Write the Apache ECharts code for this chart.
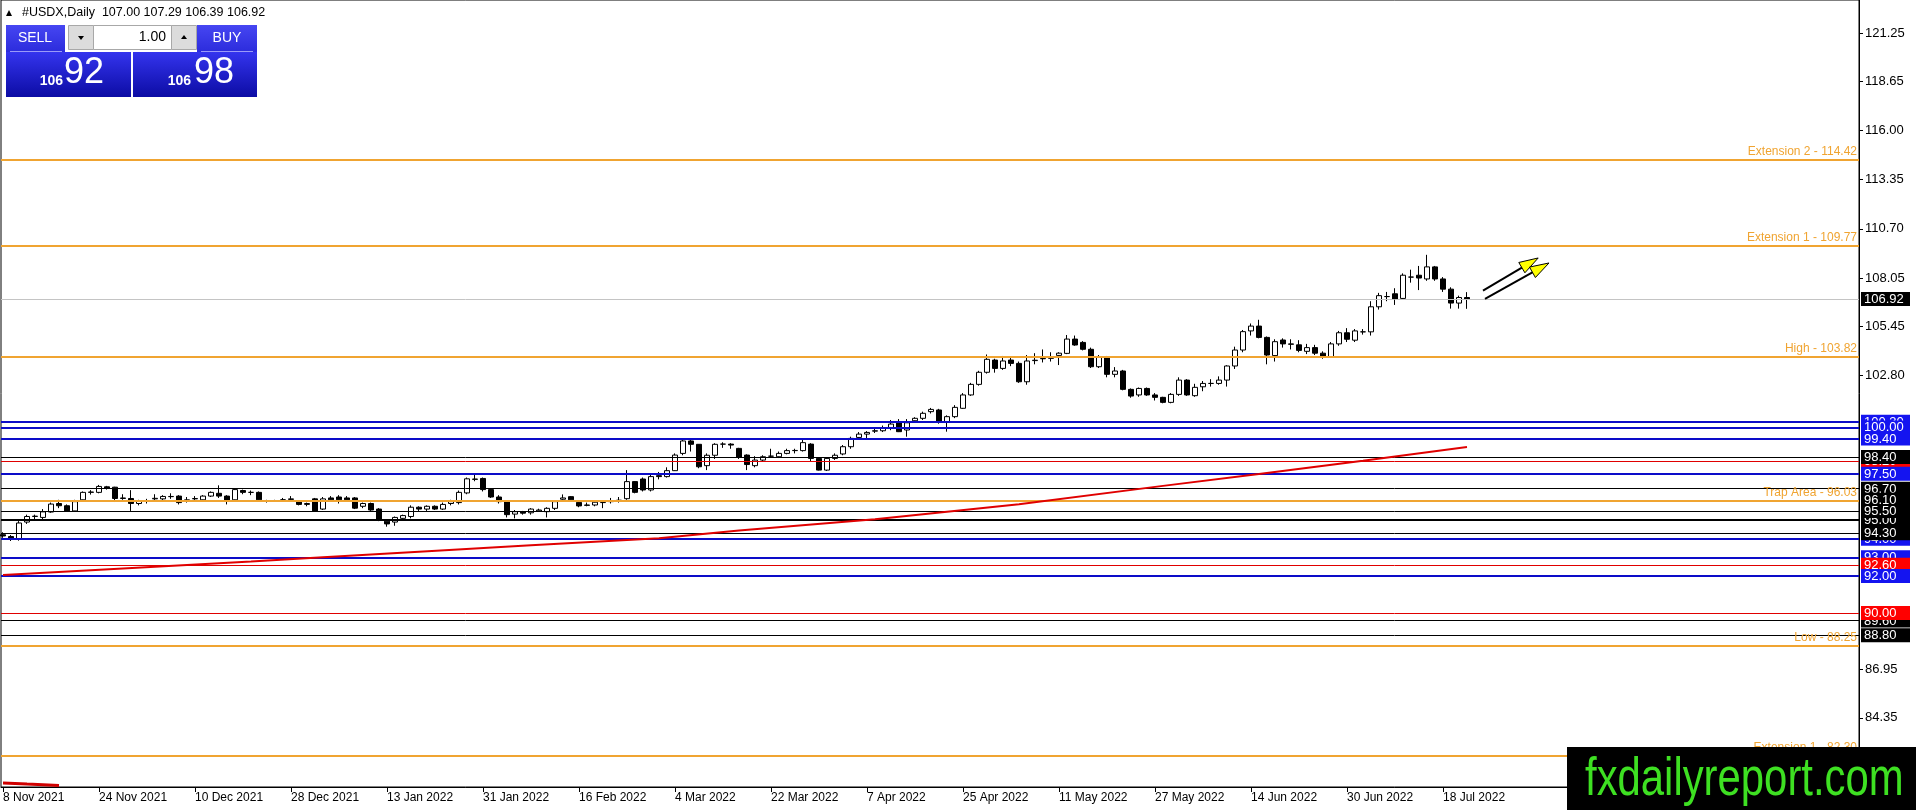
<!DOCTYPE html>
<html>
<head>
<meta charset="utf-8">
<title>#USDX,Daily</title>
<script src="https://cdn.jsdelivr.net/npm/echarts@6/dist/echarts.min.js"></script>
<style>
html, body { margin: 0; padding: 0; background: #fff; }
#chart { width: 1916px; height: 810px; }
</style>
</head>
<body>
<div id="chart"></div>
<script>
// daily candles, 8 Nov 2021 .. 21 Jul 2022, [open, high, low, close]
var candles = [
    [94.22,94.35,94.05,94.15],[94.12,94.20,93.88,94.00],[94.00,94.95,93.90,94.85],[94.90,95.30,94.80,95.20],
    [95.20,95.30,95.05,95.22],[95.15,95.60,95.05,95.45],[95.44,95.95,95.40,95.87],[95.90,96.10,95.65,95.78],
    [95.78,95.85,95.45,95.50],[95.50,96.10,95.45,96.00],[96.10,96.55,96.05,96.50],[96.50,96.62,96.38,96.52],
    [96.50,96.90,96.45,96.82],[96.80,96.85,96.65,96.72],[96.78,96.80,95.98,96.17],[96.17,96.40,96.10,96.20],
    [96.17,96.62,95.50,95.90],[95.90,96.10,95.80,96.05],[96.05,96.15,95.90,96.05],[96.15,96.40,96.00,96.18],
    [96.15,96.35,96.05,96.28],[96.27,96.45,96.15,96.28],[96.30,96.35,95.85,95.95],[96.05,96.25,95.95,96.10],
    [96.15,96.30,96.00,96.17],[96.10,96.35,96.05,96.30],[96.30,96.55,96.25,96.50],[96.45,96.88,96.20,96.30],
    [96.30,96.35,95.85,96.05],[96.10,96.70,96.00,96.65],[96.60,96.65,96.40,96.50],[96.50,96.60,96.35,96.50],
    [96.50,96.55,96.05,96.10],[96.05,96.10,95.95,96.04],[96.05,96.10,96.00,96.05],[96.10,96.20,96.00,96.10],
    [96.12,96.30,96.00,96.15],[96.00,96.05,95.80,95.85],[95.85,95.95,95.75,95.90],[96.15,96.20,95.50,95.50],
    [95.60,96.25,95.55,96.15],[96.20,96.30,96.00,96.10],[96.25,96.35,95.90,96.10],[96.20,96.30,96.00,96.10],
    [96.20,96.25,95.60,95.65],[95.75,95.95,95.65,95.90],[95.90,95.95,95.50,95.55],[95.60,95.65,94.95,95.00],
    [94.95,95.00,94.65,94.80],[94.90,95.20,94.70,95.15],[95.10,95.30,95.00,95.25],[95.20,95.80,95.10,95.70],
    [95.70,95.75,95.50,95.60],[95.60,95.80,95.50,95.75],[95.75,95.80,95.55,95.60],[95.60,95.95,95.55,95.85],
    [95.90,96.10,95.80,96.00],[95.95,96.60,95.85,96.50],[96.47,97.30,96.40,97.23],[97.20,97.45,97.10,97.22],
    [97.25,97.30,96.55,96.65],[96.65,96.70,96.20,96.25],[96.25,96.35,95.90,96.00],[96.00,96.05,95.15,95.30],
    [95.33,95.55,95.10,95.46],[95.45,95.50,95.30,95.38],[95.40,95.65,95.30,95.60],[95.50,95.62,95.45,95.55],
    [95.46,95.70,95.15,95.64],[95.64,96.05,95.55,96.00],[96.13,96.39,96.00,96.20],[96.27,96.30,96.05,96.10],
    [95.96,96.00,95.70,95.77],[95.80,95.95,95.75,95.82],[95.82,96.05,95.75,95.97],[95.95,96.00,95.65,95.96],
    [96.00,96.20,95.90,96.03],[96.05,96.25,95.95,96.08],[96.16,97.70,96.10,97.08],[97.08,97.10,96.45,96.50],
    [97.22,97.30,96.55,96.63],[96.63,97.50,96.55,97.35],[97.40,97.60,97.20,97.35],[97.35,97.85,97.30,97.67],
    [97.67,98.60,97.65,98.51],[98.60,99.40,98.50,99.27],[99.27,99.35,98.70,99.09],[99.09,99.10,97.80,97.88],
    [97.94,98.60,97.70,98.50],[98.50,99.15,98.30,99.09],[99.10,99.20,98.90,99.10],[99.10,99.15,98.85,99.05],
    [98.87,98.90,98.30,98.39],[98.51,98.55,97.70,98.00],[97.94,98.45,97.85,98.24],[98.24,98.50,98.15,98.42],
    [98.45,98.85,98.40,98.45],[98.42,98.70,98.35,98.60],[98.60,98.85,98.55,98.75],[98.75,98.85,98.60,98.76],
    [98.75,99.40,98.70,99.18],[99.10,99.15,98.15,98.33],[98.33,98.35,97.68,97.70],[97.70,98.35,97.65,98.33],
    [98.33,98.60,98.25,98.50],[98.57,99.05,98.50,98.96],[98.96,99.50,98.85,99.41],[99.46,99.75,99.40,99.64],
    [99.64,99.80,99.40,99.73],[99.80,100.00,99.70,99.82],[99.82,100.10,99.75,99.95],[99.95,100.40,99.85,100.18],
    [100.25,100.45,99.75,99.77],[99.86,100.45,99.50,100.25],[100.36,100.55,100.30,100.49],[100.49,100.85,100.40,100.76],
    [100.85,101.05,100.75,100.97],[100.94,101.00,100.20,100.31],[100.31,100.65,99.77,100.58],[100.58,101.20,100.50,101.08],
    [101.03,101.85,101.00,101.75],[101.75,102.40,101.70,102.32],[102.32,103.05,102.25,102.97],[102.97,103.93,102.90,103.67],
    [103.63,103.70,102.95,103.18],[103.18,103.85,103.10,103.58],[103.63,103.75,103.30,103.45],[103.45,103.55,102.40,102.46],
    [102.46,103.90,102.30,103.58],[103.60,104.00,103.40,103.62],[103.70,104.20,103.50,103.72],[103.72,104.05,103.55,103.81],
    [103.88,104.05,103.36,104.00],[103.99,104.98,103.95,104.76],[104.76,104.95,104.40,104.44],[104.58,104.65,104.15,104.21],
    [104.21,104.30,103.20,103.27],[103.27,103.90,103.20,103.81],[103.81,103.85,102.70,102.86],[102.86,103.25,102.70,103.04],
    [103.04,103.10,102.00,102.05],[102.05,102.10,101.60,101.69],[101.75,102.15,101.65,102.10],[102.10,102.15,101.70,101.75],
    [101.75,101.85,101.45,101.62],[101.62,101.65,101.30,101.35],[101.35,101.85,101.30,101.78],[101.78,102.70,101.70,102.55],
    [102.55,102.60,101.70,101.75],[101.71,102.35,101.65,102.16],[102.19,102.50,101.95,102.37],[102.37,102.60,102.20,102.37],
    [102.37,102.75,102.30,102.55],[102.55,103.35,102.20,103.31],[103.31,104.35,103.15,104.17],[104.17,105.25,104.05,105.16],
    [105.20,105.60,104.95,105.46],[105.46,105.80,104.80,104.85],[104.85,104.90,103.40,103.90],[103.87,104.75,103.55,104.62],
    [104.71,104.80,104.30,104.50],[104.50,104.75,104.20,104.48],[104.45,104.70,104.05,104.15],[104.10,104.50,103.95,104.30],
    [104.30,104.45,103.90,104.00],[104.00,104.10,103.70,103.80],[103.80,104.60,103.75,104.50],[104.50,105.20,104.40,105.10],
    [105.10,105.35,104.60,104.75],[104.70,105.30,104.60,105.20],[105.15,105.30,105.00,105.15],[105.15,106.80,104.95,106.50],
    [106.50,107.25,106.35,107.10],[107.05,107.30,106.80,107.05],[107.20,107.50,106.60,106.90],[106.95,108.30,106.90,108.20],
    [108.10,108.50,107.80,108.10],[108.20,108.70,107.40,108.05],[108.00,109.30,107.90,108.65],[108.65,108.70,107.90,108.00],
    [108.00,108.10,107.30,107.45],[107.45,107.55,106.40,106.70],[106.70,107.10,106.40,107.00],[107.00,107.29,106.39,106.92]
];

// moving average (bar index, value)
var maBars = [0, 15, 31, 40, 52, 66, 82, 92, 109, 127, 145, 157, 170, 183];
var maValues = [92.05, 92.40, 92.77, 93.00, 93.30, 93.65, 94.03, 94.45, 95.05, 95.86, 96.85, 97.49, 98.20, 98.95];
// the red stub sitting on the bottom edge
var stubBars = [0, 3, 7];
var stubValues = [80.84, 80.78, 80.71];

var xTickBars = [0, 12, 24, 36, 48, 60, 72, 84, 96, 108, 120, 132, 144, 156, 168, 180];
var xTickLabels = ['8 Nov 2021', '24 Nov 2021', '10 Dec 2021', '28 Dec 2021', '13 Jan 2022', '31 Jan 2022',
    '16 Feb 2022', '4 Mar 2022', '22 Mar 2022', '7 Apr 2022', '25 Apr 2022', '11 May 2022',
    '27 May 2022', '14 Jun 2022', '30 Jun 2022', '18 Jul 2022'];
var yTicks = [121.25, 118.65, 116.00, 113.35, 110.70, 108.05, 105.45, 102.80, 86.95, 84.35];

var fibLevels = [114.42, 109.77, 103.82, 96.03, 88.25, 82.30];
var fibNames = ['Extension 2', 'Extension 1', 'High', 'Trap Area', 'Low', 'Extension 1'];
var blueLevels = [100.30, 100.00, 99.40, 97.50, 94.00, 93.00, 92.00];
var blackLevels = [98.40, 96.70, 96.10, 95.50, 95.00, 94.30, 89.60, 88.80];
var redLevels = [98.20, 92.60, 90.00];
var lastPrice = 106.92;
// order the price boxes are stacked on the right scale (later ones on top)
var boxOrder = [100.30, 100.00, 99.40, 98.20, 98.40, 97.50, 96.70, 96.10, 95.00, 95.50, 94.00, 94.30,
    93.00, 92.60, 92.00, 89.60, 90.00, 88.80, 106.92];

// the two hand drawn arrows [bar1, value1, bar2, value2]
var arrows = [[185.0, 107.37, 191.9, 109.13], [185.25, 106.92, 193.25, 108.86]];

var FONT = '"Liberation Sans", Arial, sans-serif';
var ORANGE = '#f0a431';

function inList(list, v) {
    var s = v.toFixed(2);
    for (var i = 0; i < list.length; i++) {
        if (list[i].toFixed(2) === s) return true;
    }
    return false;
}

var candleData = candles.map(function (c, i) { return [i, c[0], c[3], c[2], c[1]]; });

var levelLines = [];
blackLevels.forEach(function (v) {
    levelLines.push({ yAxis: v, lineStyle: { color: '#000', width: v === 95 ? 2 : 1 } });
});
redLevels.forEach(function (v) {
    levelLines.push({ yAxis: v, lineStyle: { color: '#e00000', width: 1 } });
});
blueLevels.forEach(function (v) {
    levelLines.push({ yAxis: v, lineStyle: { color: '#0c0cc8', width: 2 } });
});
levelLines.push({ yAxis: lastPrice, lineStyle: { color: '#c4c4c4', width: 1 } });
fibLevels.forEach(function (v, i) {
    levelLines.push({
        yAxis: v,
        lineStyle: { color: ORANGE, width: 2 },
        label: {
            show: true, position: 'insideEndTop', distance: 2,
            formatter: fibNames[i] + ' - ' + v.toFixed(2),
            color: ORANGE, fontSize: 12, fontFamily: FONT
        }
    });
});

var boxStyle = function (bg) {
    return { color: '#fff', backgroundColor: bg, fontSize: 13, fontFamily: FONT, lineHeight: 13,
        width: 43, padding: [1, 3, 0, 3] };
};

var chart = echarts.init(document.getElementById('chart'));

var option = {
    animation: false,
    backgroundColor: '#fff',
    grid: {
        left: 1, right: 57, top: 0, bottom: 23,
        show: true, borderColor: '#000', borderWidth: 1, backgroundColor: '#fff',
        containLabel: false, outerBoundsMode: 'none'
    },
    xAxis: {
        type: 'value', min: -0.25, max: 232,
        axisLine: { show: true, onZero: false, lineStyle: { color: '#000', width: 1 } },
        axisTick: { show: true, length: 5, customValues: xTickBars, lineStyle: { color: '#000' } },
        axisLabel: {
            customValues: xTickBars, align: 'left', margin: 5, color: '#000',
            fontSize: 12, fontFamily: FONT, hideOverlap: false,
            formatter: function (v) { return xTickLabels[xTickBars.indexOf(v)] || ''; }
        },
        splitLine: { show: false }
    },
    yAxis: {
        type: 'value', position: 'right', min: 80.625, max: 123.03,
        axisLine: { show: true, onZero: false, lineStyle: { color: '#000', width: 1 } },
        axisTick: { show: true, inside: false, length: 4, customValues: yTicks, lineStyle: { color: '#000' } },
        splitLine: { show: false },
        axisLabel: {
            customValues: yTicks.concat(boxOrder), margin: 2, hideOverlap: false,
            fontSize: 13, fontFamily: FONT, color: '#000',
            formatter: function (v) {
                var s = v.toFixed(2);
                if (inList([lastPrice], v)) return '{k|' + s + '}';
                if (inList(blueLevels, v)) return '{b|' + s + '}';
                if (inList(redLevels, v)) return '{r|' + s + '}';
                if (inList(blackLevels, v)) return '{k|' + s + '}';
                return '{n|' + s + '}';
            },
            rich: {
                n: { color: '#000', fontSize: 13, fontFamily: FONT, padding: [0, 0, 0, 4] },
                k: boxStyle('#000'),
                b: boxStyle('#1414f0'),
                r: boxStyle('#ff0000')
            }
        }
    },
    series: [
        {
            type: 'candlestick',
            data: candleData,
            encode: { x: 0, y: [1, 2, 3, 4] },
            barWidth: 5,
            itemStyle: { color: '#fff', color0: '#000', borderColor: '#000', borderColor0: '#000', borderWidth: 1 },
            markLine: {
                symbol: 'none', silent: true, animation: false,
                label: { show: false },
                lineStyle: { type: 'solid' },
                emphasis: { disabled: true },
                data: levelLines
            }
        },
        {
            type: 'line',
            data: maBars.map(function (b, i) { return [b, maValues[i]]; }),
            symbol: 'none', z: 6,
            lineStyle: { color: '#e00000', width: 2 }
        },
        {
            type: 'line',
            data: stubBars.map(function (b, i) { return [b, stubValues[i]]; }),
            symbol: 'none', z: 6,
            lineStyle: { color: '#d00000', width: 3 }
        },
        {
            type: 'custom',
            data: arrows,
            encode: { x: [0, 2], y: [1, 3] },
            z: 7,
            renderItem: function (params, api) {
                var p1 = api.coord([api.value(0), api.value(1)]);
                var p2 = api.coord([api.value(2), api.value(3)]);
                var dx = p2[0] - p1[0], dy = p2[1] - p1[1];
                var len = Math.sqrt(dx * dx + dy * dy);
                var ux = dx / len, uy = dy / len, nx = -uy, ny = ux;
                var hl = 19, hw = 6;
                var bx = p2[0] - ux * hl, by = p2[1] - uy * hl;
                return {
                    type: 'group',
                    children: [
                        { type: 'line', shape: { x1: p1[0], y1: p1[1], x2: bx + ux * 2, y2: by + uy * 2 },
                          style: { stroke: '#000', lineWidth: 2 } },
                        { type: 'polygon', shape: { points: [[p2[0], p2[1]], [bx + nx * hw, by + ny * hw], [bx - nx * hw, by - ny * hw]] },
                          style: { fill: '#ffff00', stroke: '#000', lineWidth: 1 } }
                    ]
                };
            }
        }
    ],
    graphic: [
        // header
        { type: 'polygon', z: 100, shape: { points: [[6, 16], [12, 16], [9, 10]] }, style: { fill: '#000' } },
        { type: 'text', z: 100, x: 22, y: 13,
          style: { text: '#USDX,Daily  107.00 107.29 106.39 106.92', fill: '#000', font: '12.5px ' + FONT, textVerticalAlign: 'middle' } },
        // one click trading panel
        { type: 'rect', z: 100, shape: { x: 6, y: 25, width: 59, height: 27 },
          style: { fill: new echarts.graphic.LinearGradient(0, 0, 0, 1, [{ offset: 0, color: '#4646f2' }, { offset: 1, color: '#2c2cdc' }]) } },
        { type: 'text', z: 101, x: 35, y: 38, style: { text: 'SELL', fill: '#fff', font: '14px ' + FONT, textAlign: 'center', textVerticalAlign: 'middle' } },
        { type: 'line', z: 101, shape: { x1: 10, y1: 51.5, x2: 62, y2: 51.5 }, style: { stroke: '#9a9af8', lineWidth: 1 } },
        { type: 'rect', z: 100, shape: { x: 68.5, y: 25.5, width: 25, height: 24 }, style: { fill: '#dcdcdc', stroke: '#a8a8a8', lineWidth: 1 } },
        { type: 'polygon', z: 101, shape: { points: [[78, 36], [84, 36], [81, 40]] }, style: { fill: '#000' } },
        { type: 'rect', z: 100, shape: { x: 93.5, y: 25.5, width: 78, height: 24 }, style: { fill: '#fff', stroke: '#a8a8a8', lineWidth: 1 } },
        { type: 'text', z: 101, x: 166, y: 37, style: { text: '1.00', fill: '#000', font: '14px ' + FONT, textAlign: 'right', textVerticalAlign: 'middle' } },
        { type: 'rect', z: 100, shape: { x: 171.5, y: 25.5, width: 25, height: 24 }, style: { fill: '#dcdcdc', stroke: '#a8a8a8', lineWidth: 1 } },
        { type: 'polygon', z: 101, shape: { points: [[181, 39], [187, 39], [184, 35]] }, style: { fill: '#000' } },
        { type: 'rect', z: 100, shape: { x: 197, y: 25, width: 60, height: 27 },
          style: { fill: new echarts.graphic.LinearGradient(0, 0, 0, 1, [{ offset: 0, color: '#4646f2' }, { offset: 1, color: '#2c2cdc' }]) } },
        { type: 'text', z: 101, x: 227, y: 38, style: { text: 'BUY', fill: '#fff', font: '14px ' + FONT, textAlign: 'center', textVerticalAlign: 'middle' } },
        { type: 'line', z: 101, shape: { x1: 201, y1: 51.5, x2: 253, y2: 51.5 }, style: { stroke: '#9a9af8', lineWidth: 1 } },
        { type: 'rect', z: 100, shape: { x: 6, y: 52, width: 125, height: 45 },
          style: { fill: new echarts.graphic.LinearGradient(0, 0, 0, 1, [{ offset: 0, color: '#3434ee' }, { offset: 1, color: '#0c0ca4' }]) } },
        { type: 'rect', z: 100, shape: { x: 133, y: 52, width: 124, height: 45 },
          style: { fill: new echarts.graphic.LinearGradient(0, 0, 0, 1, [{ offset: 0, color: '#3434ee' }, { offset: 1, color: '#0c0ca4' }]) } },
        { type: 'text', z: 101, x: 63, y: 88, style: { text: '106', fill: '#fff', font: 'bold 14px ' + FONT, textAlign: 'right', textVerticalAlign: 'bottom' } },
        { type: 'text', z: 101, x: 64, y: 91, style: { text: '92', fill: '#fff', font: '36px ' + FONT, textAlign: 'left', textVerticalAlign: 'bottom' } },
        { type: 'text', z: 101, x: 191, y: 88, style: { text: '106', fill: '#fff', font: 'bold 14px ' + FONT, textAlign: 'right', textVerticalAlign: 'bottom' } },
        { type: 'text', z: 101, x: 194, y: 91, style: { text: '98', fill: '#fff', font: '36px ' + FONT, textAlign: 'left', textVerticalAlign: 'bottom' } },
        // watermark
        { type: 'rect', z: 120, shape: { x: 1567, y: 747, width: 349, height: 63 }, style: { fill: '#000' } },
        { type: 'text', z: 121, x: 1585, y: 780, scaleX: 0.775,
          style: { text: 'fxdailyreport.com', fill: '#3ee022', font: '54px ' + FONT, textAlign: 'left', textVerticalAlign: 'middle' } }
    ]
};

chart.setOption(option);
</script>
</body>
</html>
